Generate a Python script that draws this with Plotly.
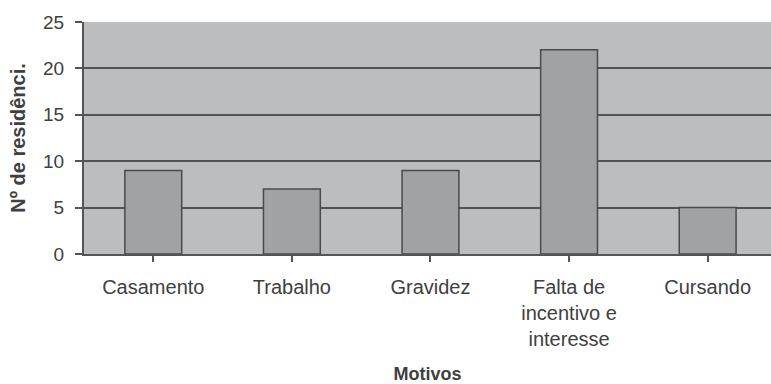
import plotly.graph_objects as go

categories = ["Casamento", "Trabalho", "Gravidez", "Falta de<br>incentivo e<br>interesse", "Cursando"]
values = [9, 7, 9, 22, 5]
y_ticks = [0, 5, 10, 15, 20, 25]

FONT = "Liberation Sans, Arial, sans-serif"
TXT = "#404040"

fig = go.Figure()
fig.add_trace(go.Bar(
    x=list(range(len(categories))),
    y=values,
    width=0.41,
    marker=dict(color="#a1a2a4", line=dict(color="#4a4a4a", width=1.5)),
    hoverinfo="skip",
))

fig.update_layout(
    width=771, height=384,
    margin=dict(l=84, r=0, t=22, b=130),
    paper_bgcolor="white",
    plot_bgcolor="#bcbdbf",
    showlegend=False,
    font=dict(family=FONT, color=TXT, size=18),
    bargap=0.59,
)

fig.update_xaxes(
    range=[-0.5, 4.457],
    tickmode="array",
    tickvals=list(range(len(categories))),
    ticktext=categories,
    tickson="boundaries",
    ticks="outside", ticklen=6, tickwidth=1.5, tickcolor="#555555",
    showline=True, linecolor="#555555", linewidth=2,
    showgrid=False, zeroline=False,
    tickfont=dict(size=20, color=TXT),
    ticklabelstandoff=8,
    title=dict(text="<b>Motivos</b>", font=dict(size=18, color=TXT), standoff=23),
    automargin=False,
    fixedrange=True,
)
fig.update_yaxes(
    range=[0, 25],
    tickmode="array", tickvals=y_ticks,
    ticks="outside", ticklen=7, tickwidth=1.5, tickcolor="#555555",
    showline=True, linecolor="#555555", linewidth=2,
    showgrid=True, gridcolor="#525252", gridwidth=1.5,
    zeroline=False,
    tickfont=dict(size=19, color=TXT),
    ticklabelstandoff=7,
    title=dict(text="<b>Nº de residênci.</b>", font=dict(size=20, color=TXT), standoff=12),
    automargin=False,
    fixedrange=True,
)

fig.write_html("out.html")
